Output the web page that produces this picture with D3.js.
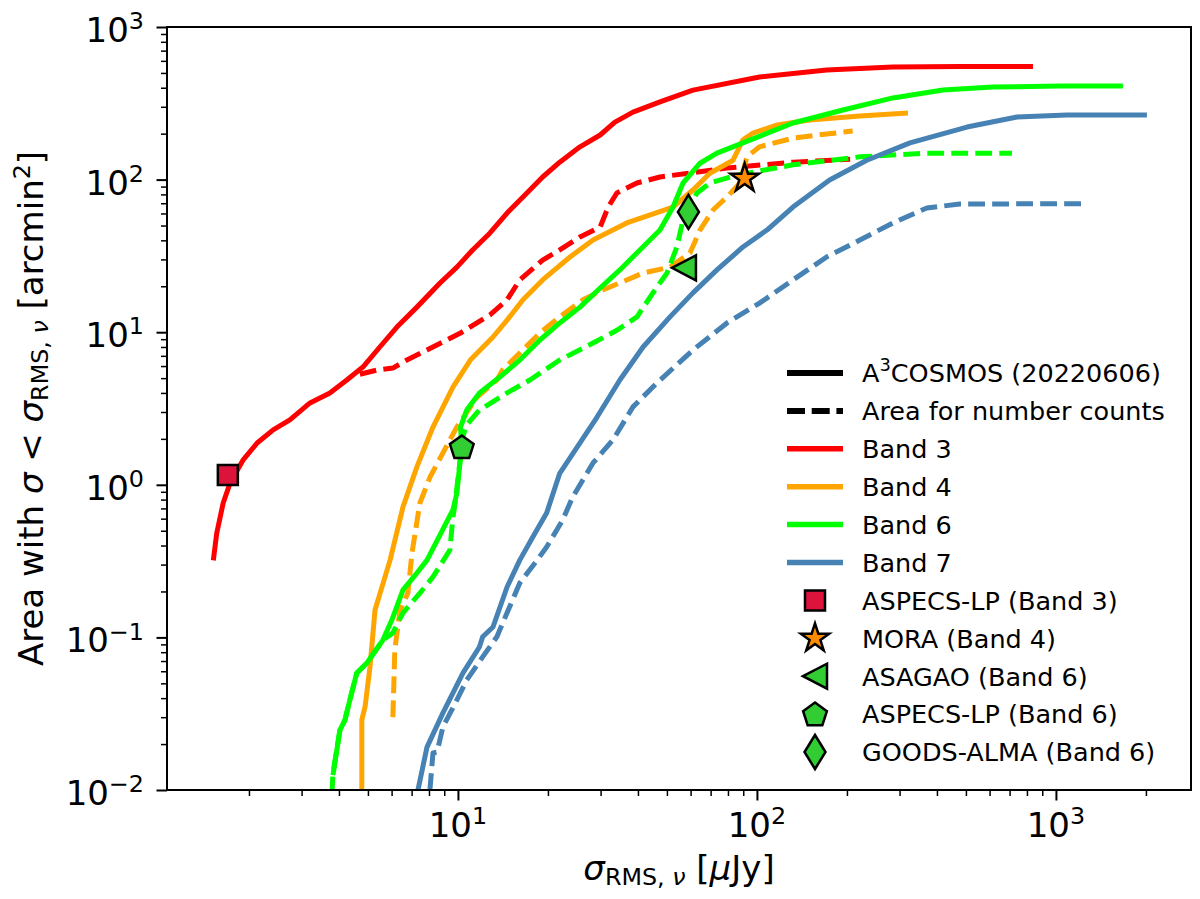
<!doctype html>
<html lang="en">
  <head>
    <meta charset="UTF-8" />
    <title>Area vs RMS sensitivity</title>
    <script src="https://unpkg.com/d3@7.9.0/dist/d3.min.js"></script>
    <style>
      body {
        margin: 0;
        background: #fff;
      }
      svg {
        font-family: 'DejaVu Sans', sans-serif;
      }
      .tick text {
        display: none;
      }
    </style>
  </head>
  <body>
    <div id="graph"></div>

    <script>
      // sigma_RMS [uJy], area [arcmin^2]
      const band3Solid = [
        [1.52, 0.32], [1.56, 0.48], [1.64, 0.76], [1.73, 1.03], [1.91, 1.45],
        [2.13, 1.88], [2.41, 2.29], [2.74, 2.66], [3.2, 3.44], [3.73, 4.0],
        [4.25, 4.86], [4.81, 5.91], [5.48, 8.0], [6.25, 10.8], [7.29, 14.6],
        [8.71, 21.0], [9.92, 26.7], [11.2, 34.6], [12.8, 44.7], [14.6, 60.4],
        [16.5, 76.9], [19.2, 104], [21.9, 130], [25.6, 164], [29.9, 196],
        [33.5, 238], [38.5, 277], [47.4, 323], [61.1, 386], [102, 470],
        [171, 523], [285, 547], [477, 550], [838, 550],
      ];
      const band3Dashed = [
        [4.7, 5.3], [5.36, 5.65], [6.06, 5.82], [6.75, 6.57], [7.88, 7.64],
        [10.2, 9.88], [12.8, 13.0], [14.6, 16.3], [16.1, 22.0], [19.2, 29.7],
        [21.9, 34.6], [25.6, 42.1], [29.9, 48.9], [31.8, 66.1], [34.0, 81.7],
        [39.7, 95.0], [47.4, 104], [79.4, 119], [132, 130], [205, 136],
      ];
      const band4Solid = [
        [4.77, 0.01], [4.77, 0.0288], [4.89, 0.035], [5.08, 0.064], [5.28, 0.151],
        [5.93, 0.321], [6.55, 0.716], [7.29, 1.31], [8.25, 2.39], [9.62, 4.37],
        [11.0, 6.57], [13.1, 9.3], [14.6, 12.0], [16.5, 16.3], [19.2, 22.0],
        [23.7, 31.1], [28.3, 40.2], [36.7, 52.0], [52.4, 66.1], [61.1, 85.5],
        [69.6, 110], [83.2, 134], [89.8, 182], [97.0, 202], [117, 228],
        [150, 246], [221, 261], [320, 273],
      ];
      const band4Dashed = [
        [6.06, 0.03], [6.15, 0.083], [6.4, 0.151], [6.8, 0.195], [7.02, 0.357],
        [7.46, 0.76], [8.06, 1.12], [8.91, 1.62], [9.92, 2.39], [11.6, 3.76],
        [13.5, 4.86], [14.1, 5.65], [16.1, 7.31], [18.8, 9.88], [21.9, 12.6],
        [26.2, 16.3], [30.5, 18.9], [36.7, 22.0], [41.6, 24.4], [51.2, 26.7],
        [59.7, 33.0], [64.5, 46.7], [71.3, 63.2], [79.4, 76.9], [87.7, 95.0],
        [92.6, 141], [102, 164], [132, 187], [171, 199], [209, 208],
      ];
      const band6Solid = [
        [3.82, 0.0125], [4.03, 0.0247], [4.19, 0.0288], [4.35, 0.0389], [4.59, 0.0585],
        [4.96, 0.068], [5.61, 0.096], [6.01, 0.13], [6.55, 0.205], [7.29, 0.264],
        [7.88, 0.321], [9.62, 0.684], [9.92, 0.883], [10.2, 1.52], [10.3, 1.77],
        [10.2, 2.39], [10.7, 3.09], [11.8, 4.0], [13.8, 5.08], [16.1, 6.57],
        [18.8, 8.89], [21.9, 11.5], [25.6, 14.6], [29.9, 19.5], [34.8, 25.6],
        [40.6, 34.6], [47.4, 46.7], [52.4, 66.1], [56.6, 95.0], [64.5, 128],
        [73.5, 149], [89.8, 174], [132, 235], [194, 286], [285, 343],
        [419, 386], [615, 404], [1031, 411], [1675, 411],
      ];
      const band6Dashed = [
        [3.79, 0.0095], [3.82, 0.0129], [4.03, 0.0247], [4.19, 0.0288], [4.35, 0.0389],
        [4.59, 0.0585], [4.96, 0.068], [5.61, 0.096], [6.06, 0.107], [6.55, 0.145],
        [7.46, 0.195], [8.25, 0.249], [9.4, 0.374], [9.62, 0.615], [9.77, 0.738],
        [10.2, 1.52], [10.3, 1.97], [10.7, 2.47], [11.8, 3.09], [14.6, 4.0],
        [17.4, 4.86], [21.9, 6.57], [28.3, 8.49], [34.0, 10.3], [39.7, 12.6],
        [44.9, 18.1], [50.0, 24.4], [54.0, 36.2], [56.6, 54.4], [63.0, 81.7],
        [69.6, 95.0], [85.7, 107], [132, 125], [221, 141], [370, 149], [713, 149],
      ];
      const band7Solid = [
        [7.35, 0.01], [7.88, 0.0191], [8.91, 0.032], [10.4, 0.0585], [11.8, 0.0865],
        [12.1, 0.101], [13.1, 0.117], [14.6, 0.214], [16.1, 0.321], [17.8, 0.455],
        [19.8, 0.653], [21.9, 1.19], [25.6, 1.88], [29.2, 2.78], [34.8, 4.86],
        [41.6, 8.0], [51.2, 12.6], [61.1, 18.1], [73.5, 25.6], [89.8, 36.2],
        [108, 46.7], [132, 66.1], [175, 99.4], [233, 134], [325, 174],
        [504, 221], [741, 257], [1088, 265], [2015, 265],
      ];
      const band7Dashed = [
        [8.06, 0.01], [8.25, 0.0175], [8.51, 0.0177], [8.91, 0.0259], [9.92, 0.0389],
        [10.7, 0.0526], [12.1, 0.0745], [13.5, 0.101], [14.6, 0.145], [16.1, 0.227],
        [18.4, 0.321], [19.8, 0.391], [22.4, 0.588], [24.2, 0.832], [28.3, 1.39],
        [33.0, 1.97], [38.5, 3.24], [46.3, 4.65], [61.1, 7.64], [79.4, 11.5],
        [102, 15.5], [132, 22.0], [171, 31.1], [221, 40.2], [285, 52.0],
        [370, 65.2], [477, 69.2], [1222, 69.5],
      ];

      const bandNames = ['Band 3', 'Band 4', 'Band 6', 'Band 7'];
      const bandColors = ['#ff0000', '#ffa500', '#00ff00', '#4682b4'];
      const solidCurves = [band3Solid, band4Solid, band6Solid, band7Solid];
      const dashedCurves = [band3Dashed, band4Dashed, band6Dashed, band7Dashed];

      // literature surveys
      const surveyNames = [
        'ASPECS-LP (Band 3)',
        'MORA (Band 4)',
        'ASAGAO (Band 6)',
        'ASPECS-LP (Band 6)',
        'GOODS-ALMA (Band 6)',
      ];
      const surveySigma = [1.7, 91, 57, 10.3, 59];
      const surveyArea = [1.16, 102, 26.4, 1.77, 61.4];
      const surveyShapes = ['square', 'star', 'triangle', 'pentagon', 'diamond'];
      const surveyColors = ['#dc143c', '#ff8c00', '#32cd32', '#32cd32', '#32cd32'];

      const xMajor = [10, 100, 1000];
      const yMajor = [0.01, 0.1, 1, 10, 100, 1000];

      const W = 1200;
      const H = 899;
      const margin = { top: 27, right: 9, bottom: 109, left: 167 };
      const width = W - margin.left - margin.right;
      const height = H - margin.top - margin.bottom;

      const lw = 5;
      const dash = '16.8,7.2';

      const x = d3.scaleLog().domain([1.064, 2830]).range([0, width]);
      const y = d3.scaleLog().domain([0.01, 1000]).range([height, 0]);

      const svg = d3
        .select('#graph')
        .append('svg')
        .attr('width', W)
        .attr('height', H);

      svg.append('rect').attr('width', W).attr('height', H).attr('fill', '#fff');

      const g = svg
        .append('g')
        .attr('transform', `translate(${margin.left},${margin.top})`);

      g.append('clipPath')
        .attr('id', 'clip')
        .append('rect')
        .attr('width', width)
        .attr('height', height);

      // minor ticks: 2..9 in every decade
      function minorTicks(scale) {
        const [a, b] = scale.domain();
        const out = [];
        for (let e = Math.floor(Math.log10(a)); e <= Math.ceil(Math.log10(b)); e++) {
          for (let m = 2; m <= 9; m++) {
            const v = m * Math.pow(10, e);
            if (v >= a && v <= b) out.push(v);
          }
        }
        return out;
      }

      function styleAxis(sel, w) {
        sel.select('.domain').remove();
        sel.selectAll('.tick line').attr('stroke', '#000').attr('stroke-width', w);
      }

      g.append('g')
        .attr('transform', `translate(0,${height})`)
        .call(d3.axisBottom(x).tickValues(minorTicks(x)).tickSize(6).tickFormat(''))
        .call(styleAxis, 1.5);
      g.append('g')
        .attr('transform', `translate(0,${height})`)
        .call(d3.axisBottom(x).tickValues(xMajor).tickSize(10.5).tickFormat(''))
        .call(styleAxis, 2);
      g.append('g')
        .call(d3.axisLeft(y).tickValues(minorTicks(y)).tickSize(6).tickFormat(''))
        .call(styleAxis, 1.5);
      g.append('g')
        .call(d3.axisLeft(y).tickValues(yMajor).tickSize(10.5).tickFormat(''))
        .call(styleAxis, 2);

      // power-of-ten tick labels
      function powLabel(sel, v) {
        const e = Math.round(Math.log10(v));
        sel.append('tspan').text('10');
        sel.append('tspan')
          .attr('font-size', '70%')
          .attr('dy', '-0.54em')
          .text(e < 0 ? '\u2212' + -e : e);
      }

      g.selectAll('.xlab')
        .data(xMajor)
        .join('text')
        .attr('class', 'xlab')
        .attr('x', (d) => x(d))
        .attr('y', height + 47)
        .attr('text-anchor', 'middle')
        .attr('font-size', 34)
        .each(function (d) { powLabel(d3.select(this), d); });

      g.selectAll('.ylab')
        .data(yMajor)
        .join('text')
        .attr('class', 'ylab')
        .attr('x', -23)
        .attr('y', (d) => y(d) + 15)
        .attr('text-anchor', 'end')
        .attr('font-size', 34)
        .each(function (d) { powLabel(d3.select(this), d); });

      // curves
      const line = d3
        .line()
        .x((d) => x(d[0]))
        .y((d) => y(d[1]));

      const curves = g.append('g').attr('clip-path', 'url(#clip)');
      bandNames.forEach((name, i) => {
        curves.append('path')
          .datum(solidCurves[i])
          .attr('d', line)
          .attr('fill', 'none')
          .attr('stroke', bandColors[i])
          .attr('stroke-width', lw)
          .attr('stroke-linejoin', 'round');
        curves.append('path')
          .datum(dashedCurves[i])
          .attr('d', line)
          .attr('fill', 'none')
          .attr('stroke', bandColors[i])
          .attr('stroke-width', lw)
          .attr('stroke-linejoin', 'round')
          .attr('stroke-dasharray', dash);
      });

      // marker shapes
      function markerPath(shape) {
        if (shape === 'star') return d3.symbol(d3.symbolStar, 250)();
        const p = d3.path();
        if (shape === 'square') {
          p.rect(-10, -10, 20, 20);
        } else if (shape === 'triangle') {
          p.moveTo(-12, 0);
          p.lineTo(12, -12.5);
          p.lineTo(12, 12.5);
          p.closePath();
        } else if (shape === 'pentagon') {
          d3.range(5).forEach((k) => {
            const a = -Math.PI / 2 + (k * 2 * Math.PI) / 5;
            const px = 12.5 * Math.cos(a);
            const py = 12.5 * Math.sin(a) + 1;
            if (k === 0) p.moveTo(px, py);
            else p.lineTo(px, py);
          });
          p.closePath();
        } else if (shape === 'diamond') {
          p.moveTo(0, -17);
          p.lineTo(10.5, 0);
          p.lineTo(0, 17);
          p.lineTo(-10.5, 0);
          p.closePath();
        }
        return p.toString();
      }

      g.selectAll('.survey')
        .data(surveyNames)
        .join('path')
        .attr('class', 'survey')
        .attr('transform', (d, i) => `translate(${x(surveySigma[i])},${y(surveyArea[i])})`)
        .attr('d', (d, i) => markerPath(surveyShapes[i]))
        .attr('fill', (d, i) => surveyColors[i])
        .attr('stroke', '#000')
        .attr('stroke-width', 2.5)
        .attr('stroke-linejoin', 'miter');

      // frame
      g.append('rect')
        .attr('width', width)
        .attr('height', height)
        .attr('fill', 'none')
        .attr('stroke', '#000')
        .attr('stroke-width', 2);

      // axis labels
      const xl = svg.append('text')
        .attr('x', margin.left + width / 2)
        .attr('y', 880)
        .attr('text-anchor', 'middle')
        .attr('font-size', 34);
      xl.append('tspan').attr('font-style', 'italic').text('\u03c3');
      xl.append('tspan').attr('font-size', '70%').attr('dy', 5).text('RMS, ');
      xl.append('tspan').attr('font-size', '70%').attr('font-style', 'italic').text('\u03bd');
      xl.append('tspan').attr('dy', -5).text(' [');
      xl.append('tspan').attr('font-style', 'italic').text('\u03bc');
      xl.append('tspan').text('Jy]');

      const yl = svg.append('text')
        .attr('transform', `translate(43,${margin.top + height / 2}) rotate(-90)`)
        .attr('text-anchor', 'middle')
        .attr('font-size', 34);
      yl.append('tspan').text('Area with ');
      yl.append('tspan').attr('font-style', 'italic').text('\u03c3');
      yl.append('tspan').text(' < ');
      yl.append('tspan').attr('font-style', 'italic').text('\u03c3');
      yl.append('tspan').attr('font-size', '70%').attr('dy', 5).text('RMS, ');
      yl.append('tspan').attr('font-size', '70%').attr('font-style', 'italic').text('\u03bd');
      yl.append('tspan').attr('dy', -5).text(' [arcmin');
      yl.append('tspan').attr('font-size', '70%').attr('dy', -13).text('2');
      yl.append('tspan').attr('dy', 13).text(']');

      // legend
      const legend = svg.append('g').attr('transform', 'translate(787,373)');
      const rowH = 37.9;
      const legendRows = [
        { label: 'COSMOS (20220606)', color: '#000', dashed: false, sup: true },
        { label: 'Area for number counts', color: '#000', dashed: true },
      ].concat(bandNames.map((b, i) => ({ label: b, color: bandColors[i], dashed: false })));

      legendRows.forEach((r, i) => {
        const row = legend.append('g').attr('transform', `translate(0,${i * rowH})`);
        row.append('line')
          .attr('x1', 0)
          .attr('x2', 56)
          .attr('stroke', r.color)
          .attr('stroke-width', i < 2 ? 6 : 5.5)
          .attr('stroke-dasharray', r.dashed ? '18,6.7' : null);
        const t = row.append('text')
          .attr('x', 75)
          .attr('y', 9.3)
          .attr('font-size', 25.5);
        if (r.sup) {
          t.append('tspan').text('A');
          t.append('tspan').attr('font-size', '70%').attr('dy', -11).text('3');
          t.append('tspan').attr('dy', 11).text(r.label);
        } else {
          t.text(r.label);
        }
      });

      surveyNames.forEach((name, i) => {
        const row = legend.append('g')
          .attr('transform', `translate(0,${(i + legendRows.length) * rowH})`);
        row.append('path')
          .attr('transform', 'translate(28,0)')
          .attr('d', markerPath(surveyShapes[i]))
          .attr('fill', surveyColors[i])
          .attr('stroke', '#000')
          .attr('stroke-width', 2.5);
        row.append('text')
          .attr('x', 75)
          .attr('y', 9.3)
          .attr('font-size', 25.5)
          .text(name);
      });
    </script>
  </body>
</html>
